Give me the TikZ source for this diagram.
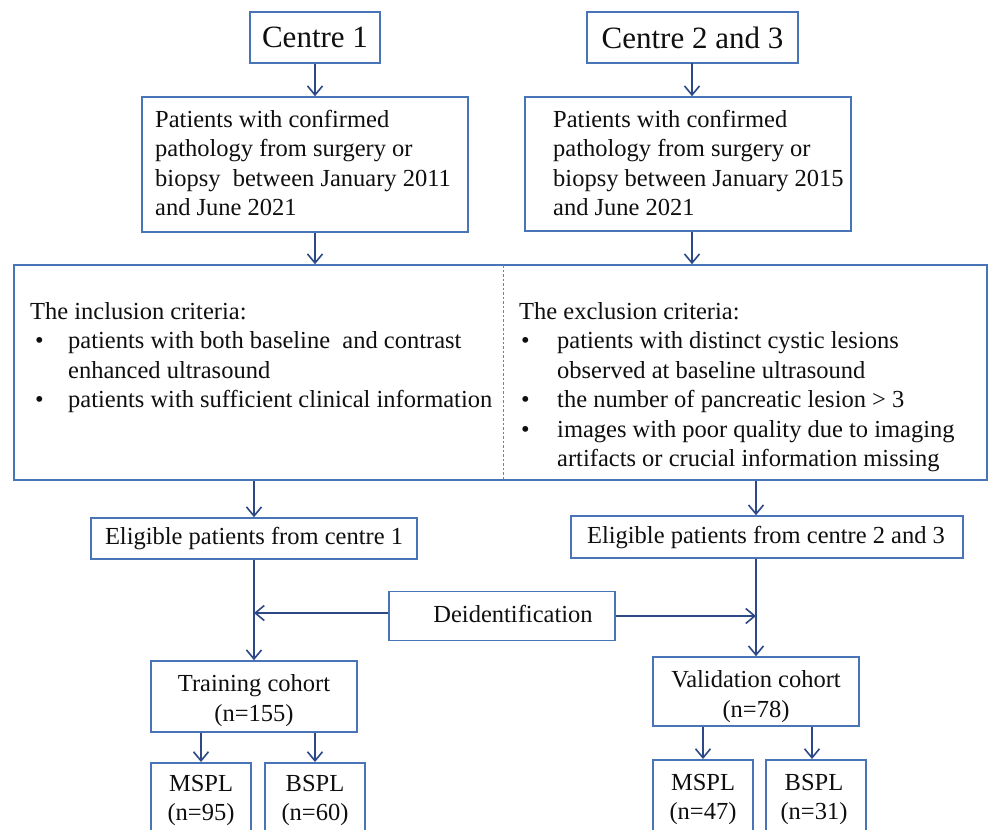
\documentclass[tikz,border=0pt]{standalone}
\usepackage{fontspec}
\setmainfont{Liberation Serif}
\usetikzlibrary{arrows.meta}
\definecolor{boxblue}{RGB}{74,116,184}
\definecolor{arrblue}{RGB}{44,72,135}
\definecolor{txtcol}{RGB}{15,15,15}
\definecolor{divcol}{RGB}{120,130,150}
\newcommand{\bodyfont}{\fontsize{24.5}{29.5}\selectfont}
\newcommand{\bigfont}{\fontsize{31}{36}\selectfont}
\tikzset{
  box/.style={draw=boxblue, line width=1.6pt, rectangle, inner sep=0pt, text=txtcol, font=\bodyfont, align=center},
  arr/.style={draw=arrblue, line width=1.8pt, -{Straight Barb[length=9pt,width=15pt,line width=1.6pt]}},
  txt/.style={inner sep=0pt, text=txtcol, font=\bodyfont, align=left, anchor=north west},
  ctxt/.style={inner sep=0pt, text=txtcol, font=\bodyfont, align=center, anchor=north},
}
\begin{document}
\begin{tikzpicture}[x=1pt,y=-1pt]
\useasboundingbox (0,0) rectangle (989,830);
\fill[white] (0,0) rectangle (989,830);
\clip (0,0) rectangle (989,830);
% top boxes
\node[box, minimum width=130pt, minimum height=51pt, font=\bigfont] (c1) at (315,37.5) {Centre 1};
\node[box, minimum width=211pt, minimum height=51pt, font=\bigfont] (c23) at (692.5,37.5) {Centre 2 and 3};
\node[box, minimum width=326pt, minimum height=135pt] (p1) at (305,164.5) {};
\node[txt] (p1t) at (155,110) {Patients with confirmed\\pathology from surgery or\\biopsy\ \ between January 2011\\and June 2021};
\node[box, minimum width=326pt, minimum height=134pt] (p2) at (688,164) {};
\node[txt] (p2t) at (553,110) {Patients with confirmed\\pathology from surgery or\\biopsy between January 2015\\and June 2021};
% big criteria box
\node[box, minimum width=973pt, minimum height=215pt] (big) at (500.5,372.5) {};
\coordinate (dtop) at (503,265);
\coordinate (dbot) at (503,480);
\draw[divcol, line width=0.8pt, dash pattern=on 2.5pt off 2pt] (dtop) -- (dbot);
\node[txt] (inc) at (30,302) {The inclusion criteria:\\
\hspace*{5pt}\makebox[33pt][l]{\textbullet}patients with both baseline\ \ and contrast\\
\hspace*{38pt}enhanced ultrasound\\
\hspace*{5pt}\makebox[33pt][l]{\textbullet}patients with sufficient clinical information};
\node[txt] (exc) at (519,302) {The exclusion criteria:\\
\hspace*{2pt}\makebox[36pt][l]{\textbullet}patients with distinct cystic lesions\\
\hspace*{38pt}observed at baseline ultrasound\\
\hspace*{2pt}\makebox[36pt][l]{\textbullet}the number of pancreatic lesion > 3\\
\hspace*{2pt}\makebox[36pt][l]{\textbullet}images with poor quality due to imaging\\
\hspace*{38pt}artifacts or crucial information missing};
% eligible
\node[box, minimum width=326pt, minimum height=41pt] (e1) at (254,538.5) {};
\node[inner sep=0pt, text=txtcol, font=\bodyfont] (e1t) at (254,539) {Eligible patients from centre 1};
\node[box, minimum width=392pt, minimum height=42pt] (e2) at (767,537) {};
\node[inner sep=0pt, text=txtcol, font=\bodyfont] (e2t) at (766,538) {Eligible patients from centre 2 and 3};
\node[box, minimum width=226pt, minimum height=49pt] (deid) at (502,616) {};
\node[inner sep=0pt, text=txtcol, font=\bodyfont] (deidt) at (513,614) {Deidentification};
% cohorts
\node[box, minimum width=206pt, minimum height=71pt] (tr) at (254,696.5) {};
\node[ctxt] (trt) at (254,674.5) {Training cohort\\(n=155)};
\node[box, minimum width=206pt, minimum height=69pt] (va) at (756,691.5) {};
\node[ctxt] (vat) at (756,670.5) {Validation cohort\\(n=78)};
\node[box, minimum width=100pt, minimum height=98pt, anchor=north] (m1) at (201,762) {};
\node[box, minimum width=100pt, minimum height=98pt, anchor=north] (b1) at (315,762) {};
\node[box, minimum width=100pt, minimum height=98pt, anchor=north] (m2) at (703,759) {};
\node[box, minimum width=100pt, minimum height=98pt, anchor=north] (b2) at (816,759) {};
\node[ctxt] (m1t) at (201,775) {MSPL\\(n=95)};
\node[ctxt] (b1t) at (315,775) {BSPL\\(n=60)};
\node[ctxt] (m2t) at (703,774) {MSPL\\(n=47)};
\node[ctxt] (b2t) at (814,774) {BSPL\\(n=31)};
% arrows
\coordinate (c23x) at (692,63);
\draw[arr] (c1.south) -- (c1.south |- p1.north);
\draw[arr] (c23x) -- (c23x |- p2.north);
\draw[arr] (c1.south |- p1.south) -- (c1.south |- big.north);
\draw[arr] (c23x |- p2.south) -- (c23x |- big.north);
\draw[arr] (e1.north |- big.south) -- (e1.north);
\draw[arr] (va.north |- big.south) -- (va.north |- e2.north);
\draw[arr] (e1.south) -- (tr.north);
\draw[arr] (va.north |- e2.south) -- (va.north);
\draw[arr] ([yshift=3pt]deid.west) -- ([yshift=3pt]deid.west -| e1.south);
\draw[arr] (deid.east) -- (deid.east -| va.north);
\draw[arr] (m1.north |- tr.south) -- (m1.north);
\draw[arr] (b1.north |- tr.south) -- (b1.north);
\draw[arr] (m2.north |- va.south) -- (m2.north);
\draw[arr] ([xshift=-4pt]b2.north |- va.south) -- ([xshift=-4pt]b2.north);
\end{tikzpicture}
\end{document}
